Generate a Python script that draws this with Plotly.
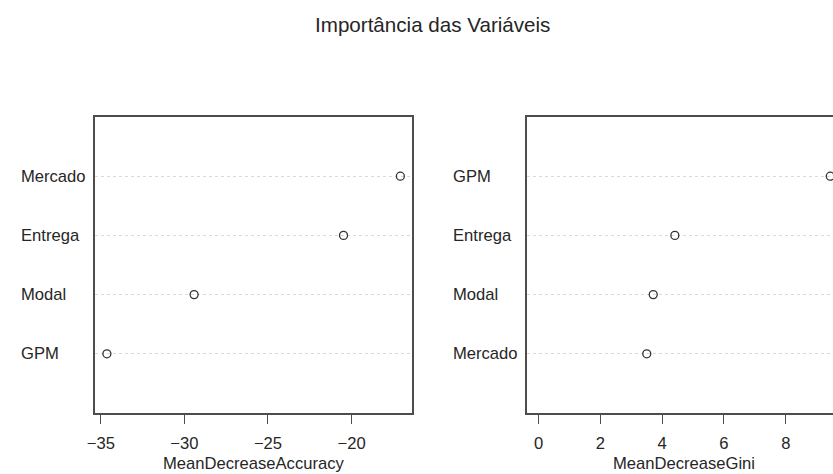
import plotly.graph_objects as go

# ---- data ----
acc_labels = ["GPM", "Modal", "Entrega", "Mercado"]
acc_values = [-34.64, -29.42, -20.48, -17.08]
acc_ticks = [-35, -30, -25, -20]

gini_labels = ["Mercado", "Modal", "Entrega", "GPM"]
gini_values = [3.50, 3.71, 4.41, 9.44]
gini_ticks = [0, 2, 4, 6, 8]

title_text = "Importância das Variáveis"
acc_title = "MeanDecreaseAccuracy"
gini_title = "MeanDecreaseGini"

W, H = 833, 474
FONT = "Liberation Sans, Arial, sans-serif"
TXT = "#262626"
BOX = "#4d4d4d"
FS = 16.6

pos_acc = list(range(1, len(acc_labels) + 1))
pos_gini = list(range(1, len(gini_labels) + 1))

# R-style 4% range extension
lo, hi = min(acc_values), max(acc_values)
acc_range = [lo - 0.04 * (hi - lo), hi + 0.04 * (hi - lo)]
glo, ghi = 0, max(gini_values)
g0, g1 = glo - 0.04 * (ghi - glo), ghi + 0.04 * (ghi - glo)
# right panel box extends past image edge (524..842 px), show up to 833
box2_l, box2_r = 524, 842
g_vis = g0 + (g1 - g0) * (W - box2_l) / (box2_r - box2_l)

fig = go.Figure()
marker = dict(symbol="circle-open", size=8, color="#333333", line=dict(width=1.3, color="#333333"))
fig.add_trace(go.Scatter(x=acc_values, y=pos_acc, mode="markers", marker=marker,
                         xaxis="x", yaxis="y", showlegend=False, hoverinfo="x+y"))
fig.add_trace(go.Scatter(x=gini_values, y=pos_gini, mode="markers", marker=marker,
                         xaxis="x2", yaxis="y2", showlegend=False, hoverinfo="x+y",
                         cliponaxis=False))

ydom = [1 - 413 / H, 1 - 117 / H]
common_x = dict(ticks="outside", ticklen=9, tickwidth=1.2, tickcolor=BOX,
                showline=True, linecolor=BOX, linewidth=1.6, showgrid=False, zeroline=False,
                tickfont=dict(family=FONT, size=FS, color=TXT), ticklabelstandoff=5)
common_y = dict(range=[0, 5], tickvals=pos_acc, showticklabels=False, ticks="",
                showgrid=True, gridcolor="#dadada", griddash="dot", gridwidth=1,
                showline=True, linecolor=BOX, linewidth=1.6, zeroline=False, domain=ydom)

fig.update_layout(
    width=W, height=H, margin=dict(l=0, r=0, t=0, b=0),
    paper_bgcolor="white", plot_bgcolor="white",
    xaxis=dict(domain=[88 / W, 408 / W], range=acc_range, tickvals=acc_ticks,
               mirror=True, anchor="y", **common_x),
    yaxis=dict(anchor="x", mirror=True, **common_y),
    xaxis2=dict(domain=[box2_l / W, 1.0], range=[g0, g_vis], tickvals=gini_ticks,
                mirror=True, anchor="y2", **common_x),
    yaxis2=dict(anchor="x2", mirror=False, **common_y),
)

ann = []
ann.append(dict(text=title_text, xref="paper", yref="paper", x=428.5 / W, y=1 - 24 / H,
                xanchor="center", yanchor="middle", showarrow=False,
                font=dict(family=FONT, size=20.6, color=TXT)))
ann.append(dict(text=acc_title, xref="paper", yref="paper", x=248 / W, y=1 - 463 / H,
                xanchor="center", yanchor="middle", showarrow=False,
                font=dict(family=FONT, size=FS, color=TXT)))
ann.append(dict(text=gini_title, xref="paper", yref="paper", x=683 / W, y=1 - 463 / H,
                xanchor="center", yanchor="middle", showarrow=False,
                font=dict(family=FONT, size=FS, color=TXT)))
for lab, p in zip(acc_labels, pos_acc):
    ann.append(dict(text=lab, xref="paper", yref="y", x=11 / W, y=p, xanchor="left",
                    yanchor="middle", showarrow=False, font=dict(family=FONT, size=FS, color=TXT)))
for lab, p in zip(gini_labels, pos_gini):
    ann.append(dict(text=lab, xref="paper", yref="y2", x=447 / W, y=p, xanchor="left",
                    yanchor="middle", showarrow=False, font=dict(family=FONT, size=FS, color=TXT)))
fig.update_layout(annotations=ann)

fig.write_html("out.html", config={"displayModeBar": False},
               post_script="document.body.style.margin='0';document.body.style.overflow='hidden';")
